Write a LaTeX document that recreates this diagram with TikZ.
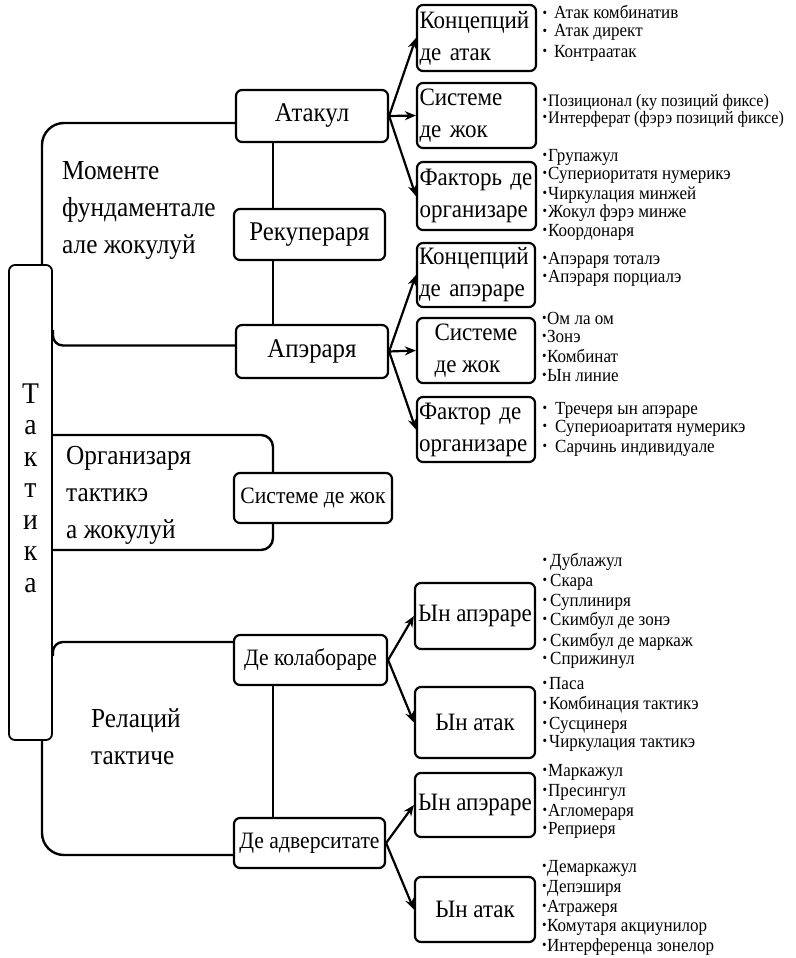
\documentclass[tikz,border=0pt]{standalone}
\usepackage{fontspec}
\setmainfont[FakeStretch=0.92]{Liberation Serif}
\usetikzlibrary{arrows.meta}
\newcommand{\bul}[1]{\makebox[0pt][r]{\raisebox{0.1em}{\fontsize{14}{14}\selectfont •}\hspace{#1pt}}}
\tikzset{
  boxn/.style={draw, line width=2.2pt, rounded corners=6pt, inner sep=1pt},
  midbox/.style={boxn, align=center, font=\fontsize{27}{30}\selectfont},
  midboxs/.style={boxn, align=center, font=\fontsize{23.5}{30}\selectfont},
  rbox/.style={boxn, align=left, font=\fontsize{25}{32}\selectfont},
  conn/.style={line width=2.4pt},
  arr/.style={line width=2.2pt, -{Stealth[length=11pt,width=9pt]}},
  item/.style={anchor=west, inner sep=0pt, text height=12pt, text depth=4pt, font=\fontsize{18.5}{20}\selectfont},
  itemn/.style={item, font=\fontsize{17.5}{20}\selectfont},
  lbl/.style={anchor=west, inner sep=0pt, align=left, font=\fontsize{27.5}{37}\selectfont}
}
\begin{document}
\begin{tikzpicture}[x=1pt,y=-1pt]
\useasboundingbox (0,0) rectangle (795,958);
% main box
\node[draw, line width=1.8pt, rounded corners=6pt, minimum width=43pt, minimum height=475pt, inner sep=0pt] (T) at (30.5,502.5) {};
\node[inner sep=0pt, align=center, font=\fontsize{30}{31.5}\selectfont] (tl) at (30.5,488) {Т\\а\\к\\т\\и\\к\\а};
\coordinate (vx) at (273,0);
\coordinate (tx) at (42,0);
% middle boxes
\node[midbox, minimum width=152pt, minimum height=52pt] (atacul) at (312,116) {Атакул};
\node[midbox, minimum width=151pt, minimum height=51pt] (recup) at (309.5,234.5) {Рекупераря};
\node[midbox, minimum width=152pt, minimum height=53pt] (aparare) at (312,351.5) {Апэраря};
\node[midboxs, minimum width=158pt, minimum height=50pt] (sdj) at (313,498) {Системе де жок};
\node[midboxs, minimum width=153pt, minimum height=50pt] (colab) at (310.5,660) {Де колабораре};
\node[midboxs, minimum width=151pt, minimum height=50pt] (adv) at (309.5,843) {Де адверситате};
% right boxes
\node[rbox, text width=114pt, minimum width=119pt, minimum height=66pt] (kda) at (476.5,38) {Концепций\\де атак};
\node[rbox, text width=114pt, minimum width=119pt, minimum height=65pt] (sdj1) at (476.5,115.5) {Системе\\де жок};
\node[rbox, text width=114pt, minimum width=119pt, minimum height=68pt] (fdo1) at (476.5,196) {Факторь де\\организаре};
\node[rbox, text width=114pt, minimum width=118pt, minimum height=64pt] (kdap) at (476,275) {Концепций\\де апэраре};
\node[rbox, minimum width=118pt, minimum height=65pt] (sdj2) at (476,350.5) {Системе\\де жок};
\node[rbox, text width=114pt, minimum width=118pt, minimum height=65pt] (fdo2) at (476,429.5) {Фактор де\\организаре};
\node[rbox, align=center, minimum width=120pt, minimum height=66pt] (ynap1) at (475,616) {Ын апэраре};
\node[rbox, align=center, minimum width=120pt, minimum height=71pt] (ynat1) at (475,722.5) {Ын атак};
\node[rbox, align=center, minimum width=120pt, minimum height=64pt] (ynap2) at (475,805) {Ын апэраре};
\node[rbox, align=center, minimum width=120pt, minimum height=65pt] (ynat2) at (475,909.5) {Ын атак};
% left labels
\node[lbl] (mom) at (62,210) {Моменте\\фундаментале\\але жокулуй};
\node[lbl] (org) at (66,495) {Организаря\\тактикэ\\а жокулуй};
\node[lbl] (rel) at (91,737) {Релаций\\тактиче};
% connectors
\draw[conn, rounded corners=22pt] (T.north -| tx) |- ([yshift=-7pt]atacul.west);
\draw[conn, rounded corners=10pt] (T.east |- 0,330) |- ([yshift=6pt]aparare.west);
\draw[conn, rounded corners=12pt] (T.east |- 0,435) -| (sdj.north -| vx);
\draw[conn, rounded corners=12pt] (sdj.south -| vx) |- (T.east |- 0,550);
\draw[conn, rounded corners=10pt] (T.east |- 0,656) |- ([yshift=18pt]colab.west);
\draw[conn, rounded corners=22pt] (T.south -| tx) |- ([yshift=-12pt]adv.west);
\draw[conn] (atacul.south -| vx) -- (recup.north -| vx);
\draw[conn] (recup.south -| vx) -- (aparare.north -| vx);
\draw[conn] (colab.south -| vx) -- (adv.north -| vx);
% arrows
\draw[arr] (atacul.east) -- (kda.west);
\draw[arr] (atacul.east) -- (sdj1.west);
\draw[arr] (atacul.east) -- (fdo1.west);
\draw[arr] (aparare.east) -- (kdap.west);
\draw[arr] (aparare.east) -- (sdj2.west);
\draw[arr] (aparare.east) -- (fdo2.west);
\draw[arr] (colab.east) -- (ynap1.west);
\draw[arr] (colab.east) -- (ynat1.west);
\draw[arr] (adv.east) -- (ynap2.west);
\draw[arr] (adv.east) -- (ynat2.west);
% bullet items
\node[item] (a1) at (554,15) {\bul{7}Атак комбинатив};
\node[item] (a2) at (554,33) {\bul{7}Атак директ};
\node[item] (a3) at (554,53) {\bul{7}Контраатак};
\node[itemn] (b1) at (548,102) {\bul{1}Позиционал (ку позиций фиксе)};
\node[itemn] (b2) at (548,119) {\bul{1}Интерферат (фэрэ позиций фиксе)};
\node[item] (c1) at (548,157) {\bul{1}Групажул};
\node[item] (c2) at (548,175) {\bul{1}Супериоритатя нумерикэ};
\node[item] (c3) at (548,195) {\bul{1}Чиркулация минжей};
\node[item] (c4) at (548,213) {\bul{1}Жокул фэрэ минже};
\node[item] (c5) at (548,232) {\bul{1}Коордонаря};
\node[item] (d1) at (548,260) {\bul{1}Апэраря тоталэ};
\node[item] (d2) at (548,278) {\bul{1}Апэраря порциалэ};
\node[item] (e1) at (547,320) {\bul{0.5}Ом ла ом};
\node[item] (e2) at (547,338) {\bul{0.5}Зонэ};
\node[item] (e3) at (547,358) {\bul{0.5}Комбинат};
\node[item] (e4) at (547,377) {\bul{0.5}Ын линие};
\node[item] (f1) at (555,410) {\bul{8}Тречеря ын апэраре};
\node[item] (f2) at (555,428) {\bul{8}Супериоаритатя нумерикэ};
\node[item] (f3) at (555,448) {\bul{8}Сарчинь индивидуале};
\node[item] (g1) at (550,562) {\bul{3}Дублажул};
\node[item] (g2) at (550,582) {\bul{3}Скара};
\node[item] (g3) at (550,602) {\bul{3}Суплиниря};
\node[item] (g4) at (550,621) {\bul{3}Скимбул де зонэ};
\node[item] (g5) at (550,642) {\bul{3}Скимбул де маркаж};
\node[item] (g6) at (550,660) {\bul{3}Сприжинул};
\node[item] (h1) at (549,685) {\bul{2}Паса};
\node[item] (h2) at (549,705) {\bul{2}Комбинация тактикэ};
\node[item] (h3) at (549,725) {\bul{2}Сусцинеря};
\node[item] (h4) at (549,743) {\bul{2}Чиркулация тактикэ};
\node[item] (i1) at (548,772) {\bul{1}Маркажул};
\node[item] (i2) at (548,792) {\bul{1}Пресингул};
\node[item] (i3) at (548,812) {\bul{1}Агломераря};
\node[item] (i4) at (548,830) {\bul{1}Реприеря};
\node[item] (j1) at (547,868) {\bul{0.5}Демаркажул};
\node[item] (j2) at (547,888) {\bul{0.5}Депэширя};
\node[item] (j3) at (547,908) {\bul{0.5}Атражеря};
\node[item] (j4) at (547,927) {\bul{0.5}Комутаря акциунилор};
\node[item] (j5) at (547,947) {\bul{0.5}Интерференца зонелор};
\end{tikzpicture}
\end{document}
